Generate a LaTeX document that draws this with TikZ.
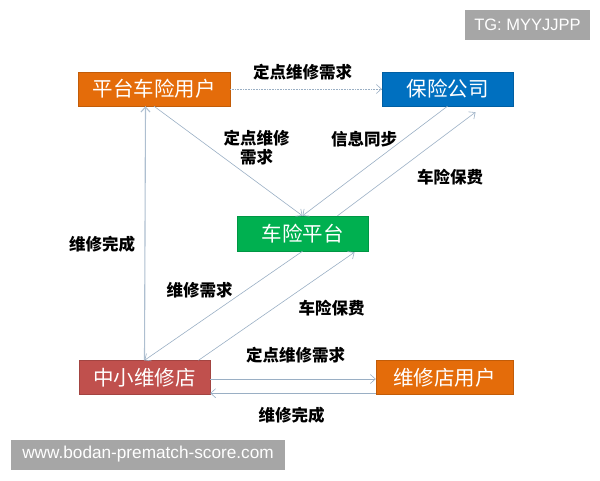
\documentclass[tikz,border=0pt]{standalone}
\usepackage{fontspec}
\setmainfont{Liberation Sans}
\newfontfamily\cjk{Noto Sans CJK SC}
\usetikzlibrary{arrows.meta,calc}
\definecolor{cOrange}{HTML}{E46C0A}
\definecolor{cBlue}{HTML}{0070C0}
\definecolor{cGreen}{HTML}{00B050}
\definecolor{cRed}{HTML}{C0504D}
\definecolor{cGray}{HTML}{A6A6A6}
\definecolor{cLine}{HTML}{9AAFC4}
\tikzset{
  box/.style={draw=#1!85!black, line width=0.4pt, fill=#1, text=white, minimum height=34pt, inner sep=0pt, font=\cjk\fontsize{20.5}{23}\selectfont},
  lbl/.style={font=\cjk\fontsize{16.5}{19}\selectfont\bfseries, text=black, inner sep=0pt, align=center},
  conn/.style={draw=cLine, line width=0.6pt, -{Straight Barb[length=5pt,width=9pt]}},
  wm/.style={fill=cGray, text=white, inner sep=0pt, font=\fontsize{16.5}{19}\selectfont}
}
\begin{document}
\begin{tikzpicture}[x=1pt,y=-1pt]
\useasboundingbox (0,0) rectangle (600,480);
\node[wm, minimum width=125pt, minimum height=30pt] (tg) at (527.5,25) {TG: MYYJJPP};
\node[wm, minimum width=274pt, minimum height=30pt, font=\fontsize{17.2}{19}\selectfont] (url) at (148,454.5) {www.bodan-prematch-score.com};

\node[box=cOrange, minimum width=152pt] (pu) at (154,89) {平台车险用户};
\node[box=cBlue, minimum width=131pt] (ins) at (447.5,89) {保险公司};
\node[box=cGreen, minimum width=131pt, minimum height=35pt] (plat) at (302.5,233.5) {车险平台};
\node[box=cRed, minimum width=131pt] (shop) at (144.5,377.5) {中小维修店};
\node[box=cOrange, minimum width=137pt] (su) at (444.5,377.5) {维修店用户};

% top dotted
\draw[conn, densely dotted] (pu.east) -- (ins.west);
% user -> platform
\draw[conn] (pu.south) -- (plat.north);
% insurer -> platform
\draw[conn] (ins.south) -- (plat.north);
% platform -> insurer
\coordinate (p1) at ($(plat.north)+(35,0)$);
\coordinate (i1) at ($(ins.south)+(28,6)$);
\draw[conn] (p1) -- (i1);
% platform -> shop
\draw[conn] (plat.south) -- (shop.north);
% shop -> platform
\coordinate (s1) at ($(shop.north)+(54,0)$);
\coordinate (p2) at ($(plat.south)+(52,1)$);
\draw[conn] (s1) -- (p2);
% shop -> user vertical
\coordinate (u1) at ($(pu.south)+(-8.5,0)$);
\draw[conn, line width=1.1pt, draw=cLine!80] (shop.north) -- (u1);
% bottom arrows
\draw[conn] ($(shop.east)+(0,1.5)$) -- ($(su.west)+(0,1.5)$);
\draw[conn] ($(su.south west)+(0,-1.5)$) -- ($(shop.south east)+(0,-1.5)$);

\node[lbl] (l1) at (302.5,72) {定点维修需求};
\node[lbl] (l2) at (256.5,148) {定点维修\\需求};
\node[lbl] (l3) at (364,139) {信息同步};
\node[lbl] (l4) at (450,177) {车险保费};
\node[lbl] (l5) at (102,244) {维修完成};
\node[lbl] (l6) at (199.5,290) {维修需求};
\node[lbl] (l7) at (331.5,308) {车险保费};
\node[lbl] (l8) at (295.5,355) {定点维修需求};
\node[lbl] (l9) at (291.5,415) {维修完成};
\end{tikzpicture}
\end{document}
